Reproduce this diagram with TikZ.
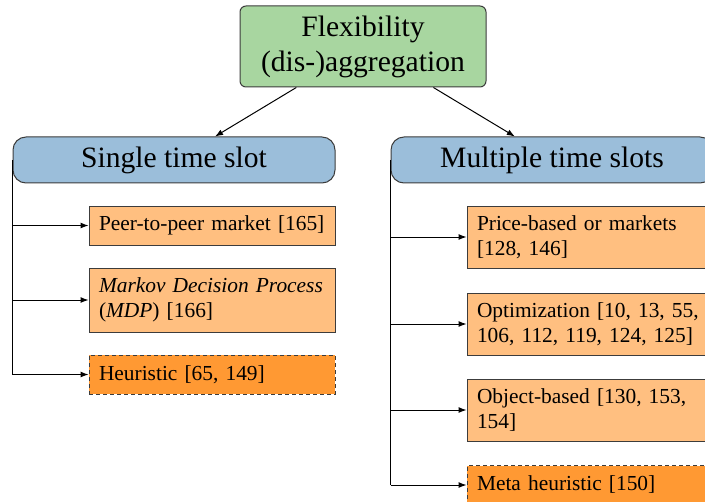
\documentclass[tikz,border=0pt]{standalone}
\usepackage{fontspec}
\setmainfont{Liberation Serif}
\usetikzlibrary{arrows.meta,calc}
\definecolor{topgreen}{RGB}{168,214,160}
\definecolor{midblue}{RGB}{155,190,218}
\definecolor{leaforange}{RGB}{255,191,128}
\definecolor{heurorange}{RGB}{255,153,51}
\definecolor{edgegray}{RGB}{60,60,60}
\begin{document}
\begin{tikzpicture}[x=0.5pt,y=-0.5pt,
  topbox/.style={draw=edgegray,line width=0.5pt,fill=topgreen,rounded corners=3pt,
    minimum width=123pt,minimum height=40.5pt,align=center,inner sep=0pt,
    font=\fontsize{14.8}{17.5}\selectfont},
  midbox/.style={draw=edgegray,line width=0.5pt,fill=midblue,rounded corners=6.5pt,
    minimum width=161pt,minimum height=23pt,inner sep=0pt,
    font=\fontsize{14.8}{17.5}\selectfont},
  leafbox/.style={draw=edgegray,line width=0.5pt,fill=leaforange,
    text width=113pt,inner xsep=5pt,inner ysep=0pt,align=left,
    font=\fontsize{10.7}{12.5}\selectfont},
  heurbox/.style={leafbox,fill=heurorange,dash pattern=on 2pt off 1.5pt},
  conn/.style={line width=0.5pt,-{Latex[length=4pt,width=3pt]}},
  trunk/.style={line width=0.5pt}]
\useasboundingbox (0,0) rectangle (705,502);
\node[topbox] (top) at (363,46.5) {Flexibility\\(dis-)aggregation};
\node[midbox] (single) at (174,160) {Single time slot};
\node[midbox] (multi) at (552,160) {Multiple time slots};
% left leaves
\node[leafbox,minimum height=19.5pt] (peer) at (212,225.5) {Peer-to-peer market [165]};
\node[leafbox,minimum height=32pt] (mdp) at (212,300) {\textit{Markov Decision Process}\\(\textit{MDP}) [166]};
\node[heurbox,minimum height=19.5pt] (heur) at (212,374.5) {Heuristic [65, 149]};
% right leaves
\node[leafbox,minimum height=31pt] (price) at (590,237) {Price-based or markets\\{}[128, 146]};
\node[leafbox,minimum height=31pt] (opt) at (590,324) {Optimization [10, 13, 55,\\106, 112, 119, 124, 125]};
\node[leafbox,minimum height=31pt] (obj) at (590,410) {Object-based [130, 153,\\154]};
\node[heurbox,minimum height=19.5pt] (meta) at (590,485) {Meta heuristic [150]};
% top connectors
\draw[conn] ($(top.south west)!0.23!(top.south east)$) -- ($(single.north west)!0.627!(single.north east)$);
\draw[conn] ($(top.south west)!0.785!(top.south east)$) -- ($(multi.north west)!0.385!(multi.north east)$);
% left trunk
\draw[trunk] (single.west) -- (single.west |- heur.west);
\draw[conn] (single.west |- peer.west) -- (peer.west);
\draw[conn] (single.west |- mdp.west) -- (mdp.west);
\draw[conn] (single.west |- heur.west) -- (heur.west);
% right trunk
\draw[trunk] (multi.west) -- (multi.west |- meta.west);
\draw[conn] (multi.west |- price.west) -- (price.west);
\draw[conn] (multi.west |- opt.west) -- (opt.west);
\draw[conn] (multi.west |- obj.west) -- (obj.west);
\draw[conn] (multi.west |- meta.west) -- (meta.west);
\end{tikzpicture}
\end{document}
